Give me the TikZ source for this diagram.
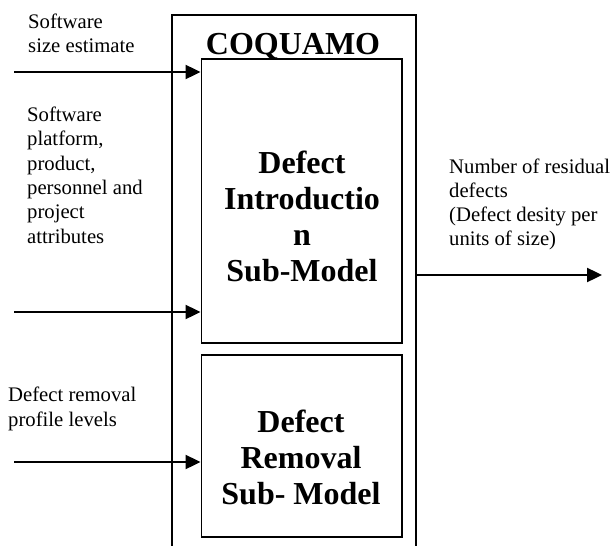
\documentclass[tikz,border=0pt]{standalone}
\usepackage{fontspec}
\setmainfont{Liberation Serif}
\usetikzlibrary{arrows.meta}
% rows hang from the baseline of their first line
\newcommand\stackedtext[2]{\begin{tabular}[t]{@{}#1@{}}#2\end{tabular}}
\begin{document}
\begin{tikzpicture}[x=1pt,y=-1pt,
  box/.style={draw, line width=1.8pt, inner sep=0pt, anchor=north west},
  lbl/.style={anchor=base west, inner sep=0pt,
    font=\fontsize{20.7}{24.3}\selectfont},
  title/.style={anchor=base, inner sep=0pt,
    font=\fontsize{32}{36.3}\selectfont\bfseries},
  feed/.style={line width=2.4pt, -{Triangle[length=15pt,width=14pt]}}]
\useasboundingbox (0,0) rectangle (616,546);
\fill[white] (0,0) rectangle (616,546);
\clip (0,0) rectangle (616,546);

% model frame and its two sub-models
\node[box, minimum width=244pt, minimum height=560pt] (frame) at (171,14) {};
\node[box, minimum width=200.5pt, minimum height=284pt] (intro) at (200.5,58) {};
\node[box, minimum width=200.5pt, minimum height=182pt] (remove) at (200.5,354) {};

% titles
\node[title] (coq) at (293,54) {COQUAMO};
\node[title] (introtxt) at (302,173) {\stackedtext{c}{Defect\\Introductio\\n\\Sub-Model}};
\node[title] (removetxt) at (301,432) {\stackedtext{c}{Defect\\Removal\\Sub- Model}};

% input and output labels
\node[lbl] (size) at (28,28.3) {\stackedtext{l}{Software\\size estimate}};
\node[lbl] (attr) at (27,121.5) {\stackedtext{l}{Software\\platform,\\product,\\personnel and\\project\\attributes}};
\node[lbl] (levels) at (8,401.7) {\stackedtext{l}{Defect removal\\profile levels}};
\node[lbl] (result) at (449,173) {\stackedtext{l}{Number of residual\\defects\\(Defect desity per\\units of size)}};

% inputs
\coordinate (in1) at (14,72);
\coordinate (in2) at (14,312);
\coordinate (in3) at (14,462);
\draw[feed] (in1) -- (in1 -| intro.west);
\draw[feed] (in2) -- (in2 -| intro.west);
\draw[feed] (in3) -- (in3 -| remove.west);

% output
\coordinate (out) at (602,275);
\draw[feed] (out -| frame.east) -- (out);
\end{tikzpicture}
\end{document}
